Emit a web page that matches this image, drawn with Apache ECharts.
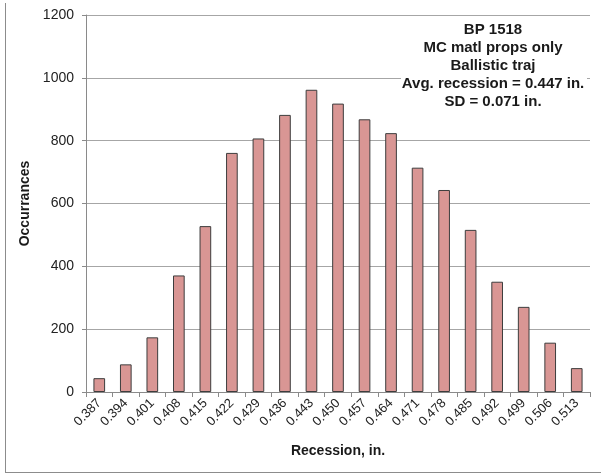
<!DOCTYPE html>
<html>
<head>
<meta charset="utf-8">
<script src="https://cdn.jsdelivr.net/npm/echarts@6/dist/echarts.min.js"></script>
<style>html,body{margin:0;padding:0;background:#fff}#c{width:605px;height:475px}</style>
</head>
<body>
<div id="c"></div>
<script>
const categories = ['0.387','0.394','0.401','0.408','0.415','0.422','0.429','0.436','0.443','0.450','0.457','0.464','0.471','0.478','0.485','0.492','0.499','0.506','0.513'];
const occurrences = [44, 88, 174, 371, 528, 761, 807, 882, 962, 918, 868, 824, 714, 643, 516, 351, 271, 157, 76];
const yTicks = [0, 200, 400, 600, 800, 1000, 1200];
const annotationLines = ['BP 1518', 'MC matl props only', 'Ballistic traj', 'Avg. recession = 0.447 in.', 'SD = 0.071 in.'];

const FONT = '"Liberation Sans", Arial, sans-serif';
const chart = echarts.init(document.getElementById('c'), null, {renderer: 'canvas'});
chart.setOption({
  animation: false,
  backgroundColor: '#ffffff',
  grid: {left: 86, right: 15, top: 15, bottom: 83, containLabel: false},
  xAxis: {
    type: 'category',
    data: categories,
    name: 'Recession, in.',
    nameLocation: 'middle',
    nameGap: 52,
    nameTextStyle: {fontFamily: FONT, fontSize: 14, fontWeight: 'bold', color: '#1a1a1a'},
    axisLine: {lineStyle: {color: '#8a8a8a', width: 1}},
    axisTick: {show: true, length: 5, lineStyle: {color: '#8a8a8a'}},
    axisLabel: {rotate: 45, fontFamily: FONT, fontSize: 13, color: '#222', margin: 9, interval: 0}
  },
  yAxis: {
    type: 'value',
    min: yTicks[0],
    max: yTicks[yTicks.length - 1],
    interval: yTicks[1] - yTicks[0],
    name: 'Occurrances',
    nameLocation: 'middle',
    nameGap: 45,
    nameTextStyle: {fontFamily: FONT, fontSize: 14, fontWeight: 'bold', color: '#1a1a1a'},
    axisLine: {show: true, lineStyle: {color: '#8a8a8a', width: 1}},
    axisTick: {show: true, length: 4, lineStyle: {color: '#8a8a8a'}},
    axisLabel: {fontFamily: FONT, fontSize: 14, color: '#222', margin: 12, formatter: v => String(v)},
    splitLine: {lineStyle: {color: '#a6a6a6', width: 1}}
  },
  series: [{
    type: 'bar',
    data: occurrences,
    barCategoryGap: '56%',
    itemStyle: {color: '#d99694', borderColor: '#3d3d3d', borderWidth: 1}
  }],
  graphic: [
    {type: 'rect', z: 10, shape: {x: 401, y: 21, width: 186, height: 90}, style: {fill: '#ffffff'}},
    {type: 'text', z: 11, x: 493, y: 66, style: {
      text: annotationLines.join('\n'), fontFamily: FONT, fontSize: 15, fontWeight: 'bold',
      fill: '#1a1a1a', align: 'center', verticalAlign: 'middle', lineHeight: 18
    }},
    {type: 'line', z: 10, shape: {x1: 5.5, y1: 3, x2: 5.5, y2: 473}, style: {stroke: '#8c8c8c', lineWidth: 1}},
    {type: 'line', z: 10, shape: {x1: 5, y1: 472.5, x2: 601, y2: 472.5}, style: {stroke: '#8c8c8c', lineWidth: 1}}
  ]
});
</script>
</body>
</html>
